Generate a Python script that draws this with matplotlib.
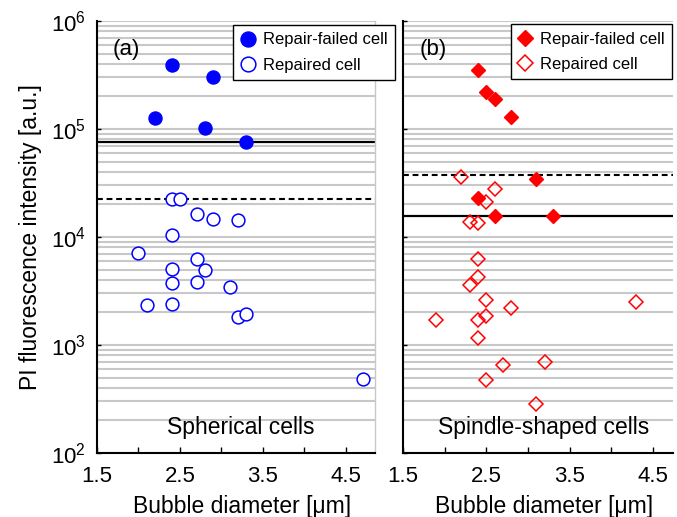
import matplotlib.pyplot as plt
from matplotlib.ticker import FixedLocator, LogLocator, NullFormatter

plt.rcParams['font.family'] = ['Liberation Sans', 'DejaVu Sans']
plt.rcParams['mathtext.fontset'] = 'custom'
plt.rcParams['mathtext.rm'] = 'Liberation Sans'

# panel (a): spherical cells
a_failed_x = [2.4, 2.9, 2.2, 2.8, 3.3]
a_failed_y = [3.9e5, 3.0e5, 1.26e5, 1.03e5, 7.5e4]
a_repaired_x = [2.4, 2.5, 2.7, 2.9, 3.2, 2.4, 2.0, 2.7, 2.4, 2.8,
                2.4, 2.7, 3.1, 2.1, 2.4, 3.2, 3.3, 4.7]
a_repaired_y = [2.23e4, 2.23e4, 1.65e4, 1.48e4, 1.43e4, 1.05e4, 7.1e3, 6.3e3, 5.1e3, 4.9e3,
                3.76e3, 3.8e3, 3.47e3, 2.33e3, 2.41e3, 1.83e3, 1.92e3, 480]
a_solid = 7.5e4
a_dashed = 2.25e4

# panel (b): spindle-shaped cells
b_failed_x = [2.4, 2.5, 2.6, 2.8, 3.1, 2.4, 2.6, 3.3]
b_failed_y = [3.53e5, 2.2e5, 1.9e5, 1.29e5, 3.42e4, 2.28e4, 1.56e4, 1.55e4]
b_repaired_x = [2.2, 2.6, 2.5, 2.3, 2.4, 2.4, 2.4, 2.3, 2.5, 2.8,
                4.3, 1.9, 2.4, 2.5, 2.4, 2.7, 3.2, 2.5, 3.1]
b_repaired_y = [3.57e4, 2.76e4, 2.1e4, 1.37e4, 1.36e4, 6.2e3, 4.3e3, 3.57e3, 2.59e3, 2.22e3,
                2.52e3, 1.69e3, 1.69e3, 1.84e3, 1.16e3, 656, 689, 475, 285]
b_solid = 1.57e4
b_dashed = 3.78e4

x_ticks = [1.5, 2.5, 3.5, 4.5]
x_minor = [2.0, 3.0, 4.0]
labels = ['Repair-failed cell', 'Repaired cell']

fig = plt.figure(figsize=(6.77, 5.17), dpi=100)
W, H = 677, 517
ax_a = fig.add_axes([97 / W, (H - 453) / H, 278 / W, 432 / H])
ax_b = fig.add_axes([403 / W, (H - 453) / H, 270 / W, 432 / H])


def style_axes(ax, xmax):
    ax.set_yscale('log')
    ax.set_ylim(1e2, 1e6)
    ax.set_xlim(1.5, xmax)
    ax.yaxis.set_major_locator(LogLocator(base=10, numticks=10))
    ax.yaxis.set_minor_locator(LogLocator(base=10, subs=range(2, 10), numticks=20))
    ax.yaxis.set_minor_formatter(NullFormatter())
    ax.xaxis.set_major_locator(FixedLocator(x_ticks))
    ax.xaxis.set_minor_locator(FixedLocator(x_minor))
    ax.grid(True, which='both', axis='y', color='#c8c8c8', lw=1.5, zorder=0)
    ax.set_axisbelow(True)
    ax.tick_params(axis='both', which='both', direction='in', labelsize=16,
                   width=1, color='black')
    ax.tick_params(axis='x', which='both', length=4, pad=9)
    ax.tick_params(axis='y', which='major', length=3, pad=8)
    ax.tick_params(axis='y', which='minor', length=0)
    ax.spines['top'].set_visible(False)
    ax.spines['left'].set_linewidth(1.5)
    ax.spines['bottom'].set_linewidth(1.5)
    ax.set_xlabel('Bubble diameter [\u03bcm]', fontsize=16.5)
    ax.xaxis.set_label_coords(0.523, -0.098)


style_axes(ax_a, 4.85)
style_axes(ax_b, 4.74)
ax_a.spines['right'].set_color('#c8c8c8')
ax_a.spines['right'].set_linewidth(1)
ax_b.spines['right'].set_visible(False)
ax_b.tick_params(axis='y', labelleft=False)

ax_a.set_ylabel('PI fluorescence intensity [a.u.]', fontsize=16.5, labelpad=6)

blue = '#0000ff'
red = '#ff0000'
leg_kw = dict(fontsize=12, frameon=True, fancybox=False, edgecolor='black',
              framealpha=1, handlelength=0.8, handletextpad=0.5, borderpad=0.45,
              labelspacing=0.62, borderaxespad=0, markerscale=1.15)

# panel (a)
ax_a.axhline(a_solid, color='black', lw=1.6, zorder=2)
ax_a.axhline(a_dashed, color='black', lw=1.5, dashes=(2.8, 1.8), zorder=2)
ax_a.plot(a_failed_x, a_failed_y, 'o', color=blue, ms=9.4, mec=blue, zorder=3,
          label=labels[0])
ax_a.plot(a_repaired_x, a_repaired_y, 'o', mfc='white', mec=blue, mew=1.1, ms=9.2,
          zorder=4, label=labels[1])
ax_a.text(0.055, 0.935, '(a)', transform=ax_a.transAxes, fontsize=16, va='center')
ax_a.text(0.516, 0.058, 'Spherical cells', transform=ax_a.transAxes, fontsize=16.5,
          ha='center', va='center')
leg_a = ax_a.legend(loc='upper left', bbox_to_anchor=(0.491, 0.991), **leg_kw)
leg_a.get_frame().set_linewidth(1)
leg_a.set_zorder(10)

# panel (b)
ax_b.axhline(b_solid, color='black', lw=1.6, zorder=2)
ax_b.axhline(b_dashed, color='black', lw=1.5, dashes=(2.8, 1.8), zorder=2)
ax_b.plot(b_failed_x, b_failed_y, 'D', color=red, ms=7.4, mec=red, zorder=3,
          label=labels[0])
ax_b.plot(b_repaired_x, b_repaired_y, 'D', mfc='none', mec=red, mew=1.1, ms=7.2,
          zorder=4, label=labels[1])
ax_b.text(0.063, 0.935, '(b)', transform=ax_b.transAxes, fontsize=16, va='center')
ax_b.text(0.52, 0.058, 'Spindle-shaped cells', transform=ax_b.transAxes, fontsize=16.5,
          ha='center', va='center')
leg_b = ax_b.legend(loc='upper right', bbox_to_anchor=(0.996, 0.993), **leg_kw)
leg_b.get_frame().set_linewidth(1)

fig.savefig('out.png', dpi=100)
